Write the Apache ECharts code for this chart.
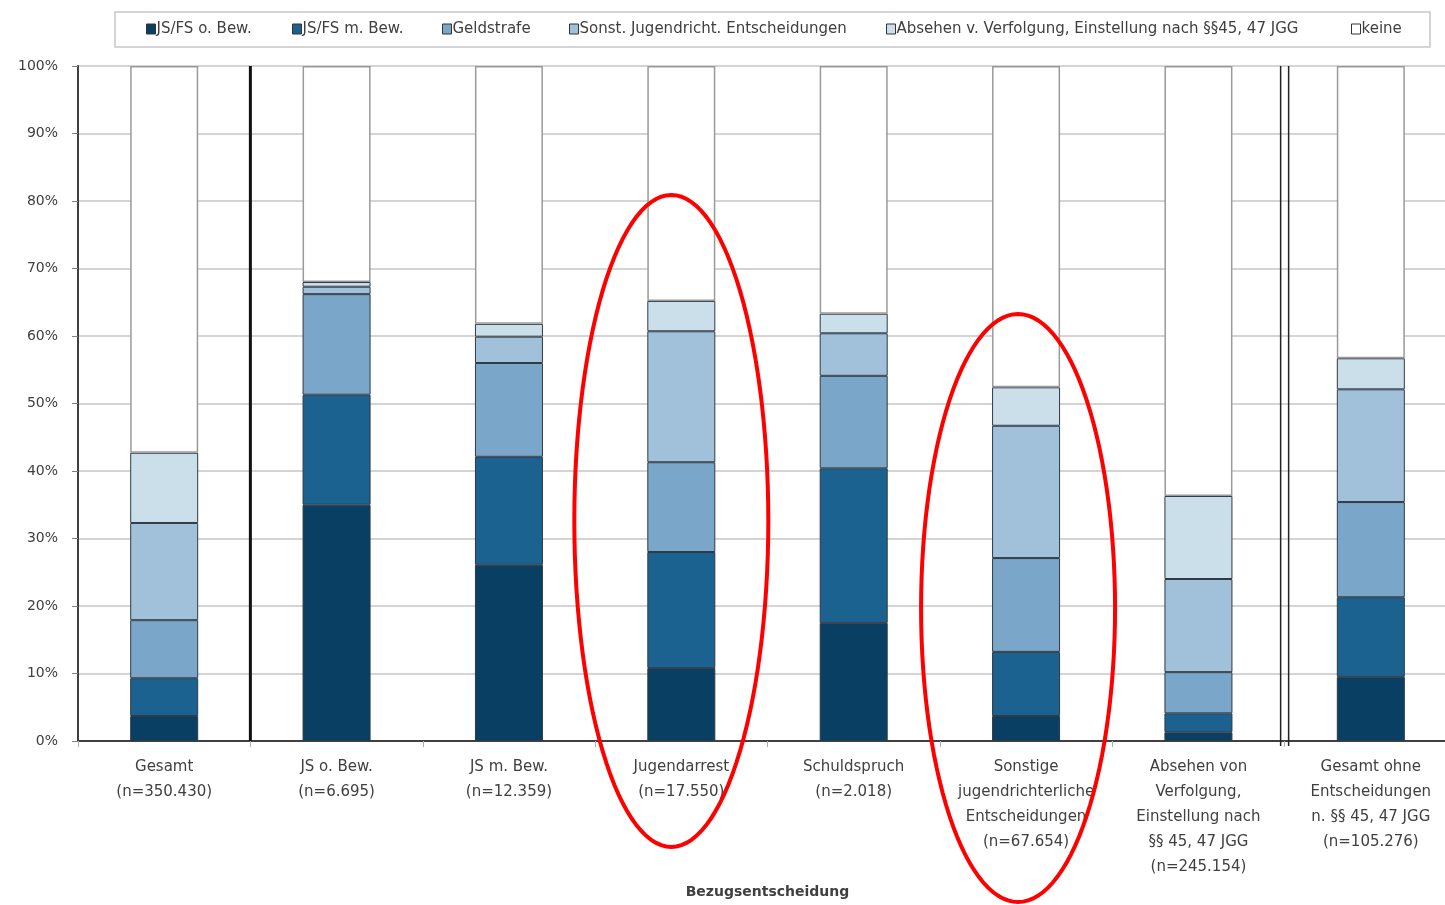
<!DOCTYPE html>
<html>
<head>
<meta charset="utf-8">
<script src="https://cdn.jsdelivr.net/npm/echarts@6/dist/echarts.min.js"></script>
<style>
  html, body { margin: 0; padding: 0; background: #fff; }
  #chart { width: 1445px; height: 905px; }
</style>
</head>
<body>
<div id="chart"></div>
<script>
// Categories (Bezugsentscheidung) with case counts
const categories = [
  'Gesamt\n(n=350.430)',
  'JS o. Bew.\n(n=6.695)',
  'JS m. Bew.\n(n=12.359)',
  'Jugendarrest\n(n=17.550)',
  'Schuldspruch\n(n=2.018)',
  'Sonstige\njugendrichterliche\nEntscheidungen\n(n=67.654)',
  'Absehen von\nVerfolgung,\nEinstellung nach\n§§ 45, 47 JGG\n(n=245.154)',
  'Gesamt ohne\nEntscheidungen\nn. §§ 45, 47 JGG\n(n=105.276)'
];

// Shares in percent per follow-up decision
const jsfsOhneBew   = [3.7, 35.0, 26.1, 10.8, 17.5, 3.7, 1.3, 9.5];
const jsfsMitBew    = [5.6, 16.3, 16.0, 17.2, 22.9, 9.5, 2.8, 11.8];
const geldstrafe    = [8.6, 14.9, 13.9, 13.3, 13.7, 13.9, 6.1, 14.1];
const sonstJugend   = [14.4, 1.1, 3.9, 19.4, 6.3, 19.6, 13.8, 16.7];
const absehen       = [10.4, 0.7, 1.9, 4.5, 2.9, 5.7, 12.3, 4.6];
const keine         = [57.3, 32.0, 38.2, 34.8, 36.7, 47.6, 63.7, 43.3];

const seriesNames = [
  'JS/FS o. Bew.',
  'JS/FS m. Bew.',
  'Geldstrafe',
  'Sonst. Jugendricht. Entscheidungen',
  'Absehen v. Verfolgung, Einstellung nach §§45, 47 JGG',
  'keine'
];
const seriesData = [jsfsOhneBew, jsfsMitBew, geldstrafe, sonstJugend, absehen, keine];
const colors = ['#083f62', '#1c6290', '#7aa7c9', '#a1c0da', '#cbdfea', '#ffffff'];

const font = '"DejaVu Sans", sans-serif';
const textColor = '#404040';

// Left edge of each legend entry inside the legend box
const legendLefts = [146, 292, 442, 569, 886, 1351];

const chart = echarts.init(document.getElementById('chart'));

const series = seriesNames.map((name, i) => ({
  name: name,
  type: 'bar',
  stack: 'total',
  barWidth: 68,
  data: seriesData[i],
  itemStyle: {
    color: colors[i],
    borderColor: i === 5 ? '#9a9a9a' : '#2e3a46',
    borderWidth: i === 5 ? 1.5 : 1
  },
  emphasis: { disabled: true }
}));

const legends = seriesNames.map((name, i) => ({
  left: legendLefts[i],
  top: 21,
  padding: 0,
  itemWidth: 9,
  itemHeight: 10,
  icon: 'rect',
  itemStyle: { borderColor: '#333', borderWidth: 1 },
  textStyle: { fontSize: 15, color: textColor, fontFamily: font, lineHeight: 16, padding: [0, 0, 0, -4] },
  selectedMode: false,
  data: [name]
}));

chart.setOption({
  animation: false,
  color: colors,
  textStyle: { fontFamily: font },
  legend: legends,
  grid: { left: 78, width: 1379, top: 66, bottom: 164, outerBoundsMode: 'none' },
  xAxis: {
    type: 'category',
    data: categories,
    name: 'Bezugsentscheidung',
    nameLocation: 'middle',
    nameGap: 136,
    nameTextStyle: { fontSize: 14, fontWeight: 'bold', color: textColor, fontFamily: font },
    axisLine: { lineStyle: { color: '#404040', width: 2 } },
    axisTick: { show: true, length: 6, lineStyle: { color: '#b0b0b0' } },
    axisLabel: {
      interval: 0,
      margin: 14,
      fontSize: 15,
      lineHeight: 25,
      color: textColor,
      fontFamily: font
    }
  },
  yAxis: {
    type: 'value',
    min: 0,
    max: 100,
    interval: 10,
    axisLine: { show: true, lineStyle: { color: '#404040', width: 2 } },
    axisTick: { show: true, length: 6, lineStyle: { color: '#808080' } },
    axisLabel: {
      formatter: '{value}%',
      fontSize: 14,
      color: textColor,
      fontFamily: font,
      margin: 20
    },
    splitLine: { lineStyle: { color: '#d4d4d4', width: 2 } }
  },
  series: series
});

// Separator lines between category groups, legend frame and highlighted ellipses
function ellipsePoints(cx, cy, rx, ry) {
  const pts = [];
  const n = 120;
  for (let k = 0; k < n; k++) {
    const t = (k / n) * Math.PI * 2;
    pts.push([cx + rx * Math.cos(t), cy + ry * Math.sin(t)]);
  }
  return pts;
}

const cx = (i) => chart.convertToPixel({ xAxisIndex: 0 }, i);
const cy = (v) => chart.convertToPixel({ yAxisIndex: 0 }, v);
const yTop = cy(100);
const yBottom = cy(0);
const sep1 = (cx(0) + cx(1)) / 2;
const sep2 = (cx(6) + cx(7)) / 2;

chart.setOption({
  graphic: [
    {
      type: 'rect', z: 40,
      shape: { x: 115, y: 12, width: 1315, height: 35 },
      style: { fill: 'none', stroke: '#c8c8c8', lineWidth: 1.5 }
    },
    {
      type: 'line', z: 50,
      shape: { x1: sep1, y1: yTop, x2: sep1, y2: yBottom },
      style: { stroke: '#111', lineWidth: 3 }
    },
    {
      type: 'line', z: 50,
      shape: { x1: sep2 - 4, y1: yTop, x2: sep2 - 4, y2: yBottom + 5 },
      style: { stroke: '#222', lineWidth: 1.5 }
    },
    {
      type: 'line', z: 50,
      shape: { x1: sep2 + 4, y1: yTop, x2: sep2 + 4, y2: yBottom + 5 },
      style: { stroke: '#222', lineWidth: 1.5 }
    },
    {
      type: 'polygon', z: 60,
      shape: { points: ellipsePoints(cx(3) - 10, cy(32.6), 97, 326) },
      style: { fill: 'none', stroke: '#ff0000', lineWidth: 4 }
    },
    {
      type: 'polygon', z: 60,
      shape: { points: ellipsePoints(cx(5) - 8, cy(19.7), 97, 294) },
      style: { fill: 'none', stroke: '#ff0000', lineWidth: 4 }
    }
  ]
});
</script>
</body>
</html>
